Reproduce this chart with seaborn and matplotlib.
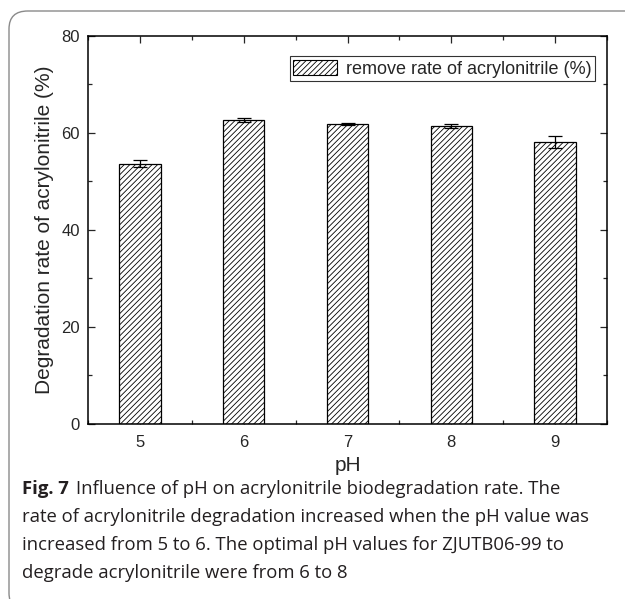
import numpy as np
import pandas as pd
import seaborn as sns
import matplotlib.pyplot as plt
from matplotlib.patches import FancyBboxPatch, Patch
from matplotlib.ticker import MultipleLocator, FixedLocator

# data
ph = ["5", "6", "7", "8", "9"]
removal = [53.7, 62.6, 61.8, 61.4, 58.1]
removal_err = [0.7, 0.4, 0.2, 0.4, 1.2]

df = pd.DataFrame({"pH": ph, "rate": removal})

sns.set_style("ticks")
plt.rcParams["font.family"] = ["Liberation Sans", "DejaVu Sans"]
plt.rcParams["hatch.linewidth"] = 0.6

fig = plt.figure(figsize=(6.25, 5.99), dpi=100)
ax = fig.add_axes([0.1408, 0.2922, 0.8304, 0.6477])

sns.barplot(data=df, x="pH", y="rate", ax=ax, color="white", edgecolor="black",
            linewidth=0.9, width=0.4, hatch="//////", errorbar=None)
ax.errorbar(np.arange(len(ph)), removal, yerr=removal_err, fmt="none",
            ecolor="black", elinewidth=0.9, capsize=5, capthick=0.9)

ax.set_xlim(-0.5, len(ph) - 0.5)
ax.set_ylim(0, 80)
ax.yaxis.set_major_locator(MultipleLocator(20))
ax.yaxis.set_minor_locator(MultipleLocator(10))
ax.xaxis.set_minor_locator(FixedLocator(np.arange(-0.5, len(ph), 1.0)))
ax.tick_params(which="both", direction="in", top=True, right=True,
               labelsize=12, width=0.9, pad=6)
ax.tick_params(axis="x", pad=8)
ax.tick_params(which="major", length=5)
ax.tick_params(which="minor", length=3)
for s in ax.spines.values():
    s.set_linewidth(1.1)
    s.set_color("black")

ax.set_xlabel("pH", fontsize=15, labelpad=4)
ax.set_ylabel("Degradation rate of acrylonitrile (%)", fontsize=15, labelpad=5)

handle = Patch(facecolor="white", edgecolor="black", hatch="//////", linewidth=0.8)
leg = ax.legend([handle], ["remove rate of acrylonitrile (%)"], loc="upper right",
                bbox_to_anchor=(0.977, 0.948), fontsize=13, frameon=True,
                fancybox=False, borderpad=0.2, handlelength=2.4, handleheight=0.9,
                borderaxespad=0, handletextpad=0.5)
leg.get_frame().set_edgecolor("black")
leg.get_frame().set_linewidth(0.8)

# rounded frame round figure and caption
frame = FancyBboxPatch((9 / 625, -0.02), 1.2, 1 - 11 / 599 + 0.02,
                       boxstyle="round,pad=0,rounding_size=0.03",
                       transform=fig.transFigure, facecolor="none",
                       edgecolor="#8a8a8a", linewidth=1.0)
fig.patches.append(frame)

caption = [
    "Influence of pH on acrylonitrile biodegradation rate. The",
    "rate of acrylonitrile degradation increased when the pH value was",
    "increased from 5 to 6. The optimal pH values for ZJUTB06-99 to",
    "degrade acrylonitrile were from 6 to 8",
]
cap_font = ["Open Sans", "DejaVu Sans"]
x0 = 22 / 625
ys = [489, 517, 545, 573]
t = fig.text(x0, 1 - ys[0] / 599, "Fig. 7", fontsize=13.3, fontweight="bold",
             family=cap_font, color="#231f20", va="center")
fig.canvas.draw()
bb = t.get_window_extent()
fig.text((bb.x1 + 7) / 625, 1 - ys[0] / 599, caption[0], fontsize=13.3,
         family=cap_font, color="#231f20", va="center")
for line, y in zip(caption[1:], ys[1:]):
    fig.text(x0, 1 - y / 599, line, fontsize=13.3, family=cap_font,
             color="#231f20", va="center")

fig.savefig("out.png", dpi=100)
